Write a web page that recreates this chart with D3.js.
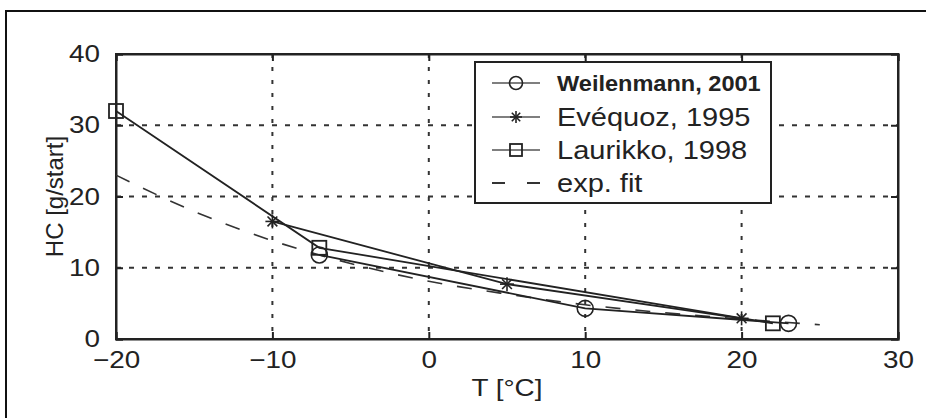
<!DOCTYPE html>
<html><head><meta charset="utf-8">
<script src="https://cdn.jsdelivr.net/npm/d3@7"></script>
<style>
html,body{margin:0;padding:0;background:#fff;}
svg{display:block;}
text{font-family:"Liberation Sans",Arial,sans-serif;fill:#222;}
</style></head>
<body>
<svg id="chart" width="926" height="418"></svg>
<script>
// ---- data ----
const xTicks = [-20, -10, 0, 10, 20, 30];
const yTicks = [0, 10, 20, 30, 40];
const weilenmannT = [-7, 10, 23];
const weilenmannHC = [11.8, 4.3, 2.2];
const evequozT = [-10, 5, 20];
const evequozHC = [16.5, 7.7, 2.9];
const laurikkoT = [-20, -7, 22];
const laurikkoHC = [32.0, 12.8, 2.2];
const fitT = [-20, -15, -10, -5, 0, 5, 10, 15, 20, 25];
const fitHC = [23.0, 17.9, 13.8, 10.6, 8.1, 6.3, 4.8, 3.7, 2.8, 2.0];
const legendLabels = ["Weilenmann, 2001", "Evéquoz, 1995", "Laurikko, 1998", "exp. fit"];
const xLabel = "T [°C]";
const yLabel = "HC [g/start]";

const svg = d3.select("#chart");
const L = 116, R = 898, T = 54, B = 339;
const x = d3.scaleLinear().domain([-20, 30]).range([L, R]);
const y = d3.scaleLinear().domain([0, 40]).range([B, T]);
const ink = "#222";
function widen(sel, k) {
  const f = k || 1.16;
  sel.each(function () {
    const w = this.getComputedTextLength();
    d3.select(this).attr("textLength", w * f).attr("lengthAdjust", "spacingAndGlyphs");
  });
}

// outer frame
svg.append("rect").attr("x", 6).attr("y", 11).attr("width", 1000).attr("height", 1000)
  .attr("fill", "none").attr("stroke", "#111").attr("stroke-width", 2);

// grid
const grid = svg.append("g");
grid.selectAll("line.v").data(xTicks.slice(1, -1)).join("line")
  .attr("x1", d => x(d)).attr("x2", d => x(d)).attr("y1", T).attr("y2", B)
  .attr("stroke", "#333").attr("stroke-width", 2).attr("stroke-dasharray", "4,9");
grid.selectAll("line.h").data(yTicks.slice(1, -1)).join("line")
  .attr("y1", d => y(d)).attr("y2", d => y(d)).attr("x1", L).attr("x2", R)
  .attr("stroke", "#333").attr("stroke-width", 2).attr("stroke-dasharray", "5,8");

// axes
const fs = 24;
const xAxis = svg.append("g").attr("transform", `translate(0,${B})`)
  .call(d3.axisBottom(x).tickValues(xTicks).tickSize(-7).tickPadding(12)
    .tickFormat(d => d < 0 ? "\u2212" + Math.abs(d) : d));
const xAxisTop = svg.append("g").attr("transform", `translate(0,${T})`)
  .call(d3.axisTop(x).tickValues(xTicks).tickSize(-7).tickFormat(""));
const yAxis = svg.append("g").attr("transform", `translate(${L},0)`)
  .call(d3.axisLeft(y).tickValues(yTicks).tickSize(-7).tickPadding(16));
const yAxisR = svg.append("g").attr("transform", `translate(${R},0)`)
  .call(d3.axisRight(y).tickValues(yTicks).tickSize(-7).tickFormat(""));
[xAxis, xAxisTop, yAxis, yAxisR].forEach(g => {
  g.select(".domain").attr("stroke", ink).attr("stroke-width", 2);
  g.selectAll(".tick line").attr("stroke", ink).attr("stroke-width", 2);
  g.selectAll("text").attr("font-size", fs).attr("fill", ink)
    .attr("font-family", '"Liberation Sans",Arial,sans-serif');
});
widen(xAxis.selectAll("text"));
widen(yAxis.selectAll("text"));
svg.append("rect").attr("x", L).attr("y", T).attr("width", R - L).attr("height", B - T)
  .attr("fill", "none").attr("stroke", ink).attr("stroke-width", 2);

// axis labels
svg.append("text").attr("x", (L + R) / 2).attr("y", 396).attr("text-anchor", "middle")
  .attr("font-size", fs).text(xLabel).call(widen);
svg.append("text").attr("transform", `translate(63,${(T + B) / 2}) rotate(-90)`)
  .attr("text-anchor", "middle").attr("font-size", fs).text(yLabel);

// series
const line = d3.line().x(d => x(d[0])).y(d => y(d[1]));
const lineCol = "#222";
const zip = (a, b) => a.map((v, i) => [v, b[i]]);
const fitData = zip(fitT, fitHC);
svg.append("path").datum(fitData)
  .attr("d", d3.line().x(d => x(d[0])).y(d => y(d[1])).curve(d3.curveMonotoneX))
  .attr("fill", "none").attr("stroke", "#333").attr("stroke-width", 1.6).attr("stroke-dasharray", "15,15");
const series = [
  {data: zip(weilenmannT, weilenmannHC), m: "circle"},
  {data: zip(evequozT, evequozHC), m: "star"},
  {data: zip(laurikkoT, laurikkoHC), m: "square"}
];
function marker(g, type, cx, cy, s) {
  if (type === "circle") {
    g.append("circle").attr("cx", cx).attr("cy", cy).attr("r", s)
      .attr("fill", "none").attr("stroke", lineCol).attr("stroke-width", 1.6);
  } else if (type === "square") {
    g.append("rect").attr("x", cx - s).attr("y", cy - s).attr("width", 2 * s).attr("height", 2 * s)
      .attr("fill", "none").attr("stroke", lineCol).attr("stroke-width", 1.8);
  } else {
    const d = s * 0.7;
    const segs = [[-s, 0, s, 0], [0, -s, 0, s], [-d, -d, d, d], [-d, d, d, -d]];
    segs.forEach(q => g.append("line").attr("x1", cx + q[0]).attr("y1", cy + q[1])
      .attr("x2", cx + q[2]).attr("y2", cy + q[3]).attr("stroke", lineCol).attr("stroke-width", 1.6));
  }
}
series.forEach(s => {
  svg.append("path").datum(s.data).attr("d", line)
    .attr("fill", "none").attr("stroke", lineCol).attr("stroke-width", 1.8);
  const g = svg.append("g");
  const size = s.m === "circle" ? 8 : 7;
  s.data.forEach(p => marker(g, s.m, x(p[0]), y(p[1]), size));
});

// legend
const lg = svg.append("g");
lg.append("rect").attr("x", 475).attr("y", 62).attr("width", 296).attr("height", 141)
  .attr("fill", "#fff").attr("stroke", ink).attr("stroke-width", 2);
const rows = [83, 117, 150, 183];
const types = ["circle", "star", "square", "fit"];
rows.forEach((ry, i) => {
  if (types[i] === "fit") {
    lg.append("line").attr("x1", 492).attr("x2", 540).attr("y1", ry).attr("y2", ry)
      .attr("stroke", "#333").attr("stroke-width", 1.8).attr("stroke-dasharray", "13,22");
  } else {
    lg.append("line").attr("x1", 492).attr("x2", 540).attr("y1", ry).attr("y2", ry)
      .attr("stroke", "#555").attr("stroke-width", 1.6);
    marker(lg, types[i], 516, ry, types[i] === "circle" ? 6.5 : 6);
  }
  lg.append("text").attr("x", 557).attr("y", ry).attr("dy", "0.36em")
    .attr("font-size", i === 0 ? 22 : 25).attr("font-weight", i === 0 ? "bold" : "normal")
    .attr("fill", i === 0 ? "#333" : "#222")
    .text(legendLabels[i]).call(widen, i === 0 ? 1.07 : 1.16);
});
</script>
</body></html>
